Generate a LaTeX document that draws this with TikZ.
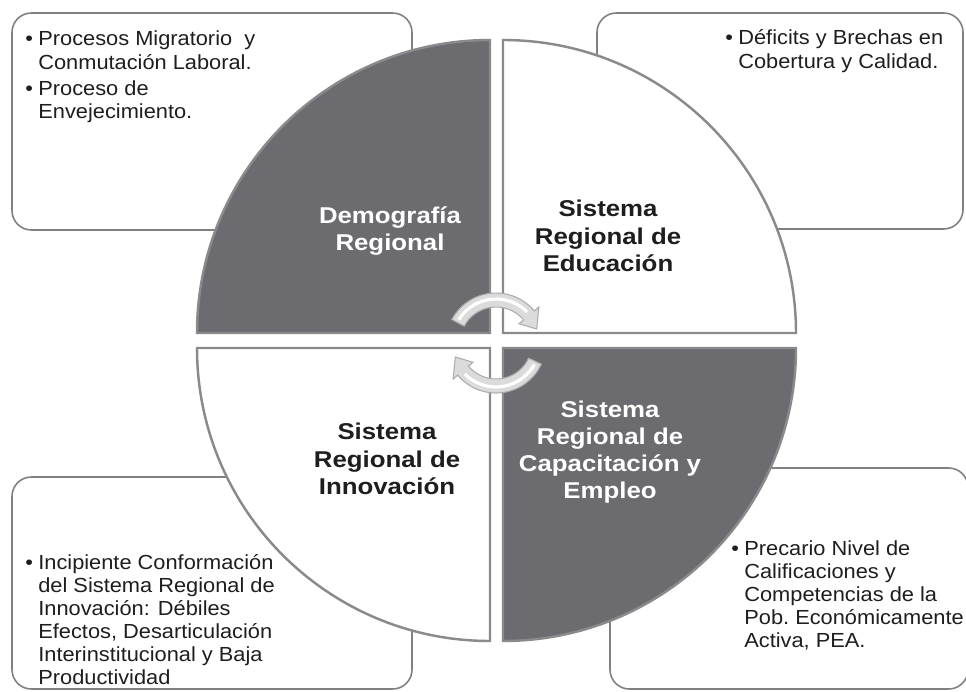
\documentclass[tikz,border=0pt]{standalone}
\usepackage{fontspec}
\setmainfont{Liberation Sans}[FakeStretch=1.07]
\newfontfamily\labelfont{Liberation Sans}[FakeStretch=1.13]
\definecolor{quadfill}{RGB}{108,108,112}
\definecolor{rimgray}{RGB}{138,138,140}
\definecolor{boxgray}{RGB}{128,128,128}
\definecolor{txtgray}{RGB}{30,30,30}

\begin{document}
\begin{tikzpicture}[x=0.02cm,y=0.02cm]
\tikzset{infobox/.style = {draw=boxgray, line width=0.9pt, rounded corners=11pt, fill=white},
  darkquad/.style = {fill=quadfill, draw=rimgray, line width=1.4pt},
  lightquad/.style = {fill=white, draw=rimgray, line width=1.4pt},
  quadlabel/.style = {align=center, inner sep=0pt, font=\labelfont\fontsize{13}{15.5}\selectfont\bfseries},
  bullettext/.style = {anchor=base west, inner sep=0pt, text=txtgray, font=\fontsize{11.6}{13.2}\selectfont},
  cycarrow/.style = {fill=gray!28, draw=gray!65, line width=0.6pt},
  glint/.style = {white, line width=1.8pt}}
\useasboundingbox (0,0) rectangle (966,-692);

\draw[infobox] (12,-13) rectangle (412,-230);
\draw[infobox] (597,-13) rectangle (963,-229);
\draw[infobox] (12,-477) rectangle (412,-689);
\draw[infobox] (610,-468) rectangle (968,-689);

\draw[darkquad] (490,-333) -- (197,-333) arc[start angle=180, end angle=90, radius=293] -- cycle;
\draw[lightquad] (503,-333) -- (503,-40) arc[start angle=90, end angle=0, radius=293] -- cycle;
\draw[lightquad] (490,-348) -- (490,-641) arc[start angle=270, end angle=180, radius=293] -- cycle;
\draw[darkquad] (503,-348) -- (796,-348) arc[start angle=0, end angle=-90, radius=293] -- cycle;

\node[bullettext] (demotxt) at (25,-46) {\begin{tabular}[t]{@{}p{7.4pt}@{}l@{}}
\textbullet & Procesos Migratorio\ \ y\\ & Conmutación Laboral.\\[1.7pt]
\textbullet & Proceso de\\ & Envejecimiento.\end{tabular}};
\node[bullettext] (eductxt) at (725,-45) {\begin{tabular}[t]{@{}p{7.4pt}@{}l@{}}
\textbullet & Déficits y Brechas en\\ & Cobertura y Calidad.\end{tabular}};
\node[bullettext] (innovtxt) at (25,-569) {\begin{tabular}[t]{@{}p{7.4pt}@{}l@{}}
\textbullet & Incipiente Conformación\\ & del Sistema Regional de\\ & Innovación: Débiles\\
& Efectos, Desarticulación\\ & Interinstitucional y Baja\\ & Productividad\end{tabular}};
\node[bullettext] (capactxt) at (731,-555) {\begin{tabular}[t]{@{}p{7.4pt}@{}l@{}}
\textbullet & Precario Nivel de\\ & Calificaciones y\\ & Competencias de la\\
& Pob.\ Económicamente\\ & Activa, PEA.\end{tabular}};

\node[quadlabel, text=white] (demog) at (390,-231) {Demografía\\Regional};
\node[quadlabel, text=txtgray] (educ) at (608,-236) {Sistema\\Regional de\\Educación};
\node[quadlabel, text=txtgray] (innov) at (387,-459) {Sistema\\Regional de\\Innovación};
\node[quadlabel, text=white] (capac) at (610,-452) {Sistema\\Regional de\\Capacitación y\\Empleo};

\begin{scope}[shift={(496,-343)}]
\draw[cycarrow] (152:50) arc[start angle=152, end angle=40, radius=50] -- (40:56) -- (19:43) -- (40:30) -- (40:36) arc[start angle=40, end angle=152, radius=36] -- cycle;
\draw[glint] (148:44) arc[start angle=148, end angle=45, radius=44];
\draw[cycarrow] (-25:50) arc[start angle=-25, end angle=-140, radius=50] -- (-140:56) -- (-161:43) -- (-140:30) -- (-140:36) arc[start angle=-140, end angle=-25, radius=36] -- cycle;
\draw[glint] (-29:44) arc[start angle=-29, end angle=-135, radius=44];
\end{scope}
\end{tikzpicture}
\end{document}
